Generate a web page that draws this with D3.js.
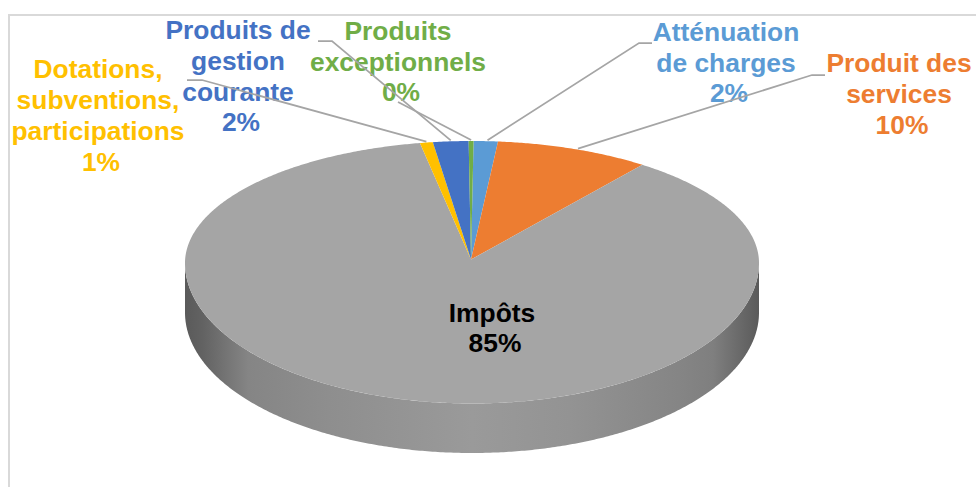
<!DOCTYPE html>
<html><head><meta charset="utf-8">
<script src="https://cdn.jsdelivr.net/npm/d3@7"></script>
<style>html,body{margin:0;padding:0;background:#fff}svg{display:block}
text{font-family:"Liberation Sans",Arial,sans-serif;font-weight:700;font-size:26.4px;text-anchor:middle}</style>
</head><body><svg id="c" width="976" height="487"></svg>
<script>
const categories = ["Atténuation de charges","Produit des services","Impôts","Dotations, subventions, participations","Produits de gestion courante","Produits exceptionnels"];
const shares = [1.5, 9.5, 85.7, 0.8, 2.2, 0.3];
const percentLabels = ["2%","10%","85%","1%","2%","0%"];
const colors = ["#5b9bd5","#ed7d31","#a5a5a5","#ffc000","#4472c4","#70ad47"];
const labelLines = [["Atténuation","de charges"],["Produit des","services"],["Impôts"],["Dotations,","subventions,","participations"],["Produits de","gestion","courante"],["Produits","exceptionnels"]];
const labelCenters = [[726,41],[899,72],[492,322],[98,78],[238,39],[398,40]];
const lineSteps = [30.5,31,30,31,30.8,30.6];
const leaders = [[[652,43],[639,43]],[[825,75],[812,75]],null,[[187,80],[202,80]],[[318,41],[332,41]],[[398,102]]];
const leaderAnchors = [0.57,0.53,0,0.5,0.5,0.5];

const svg = d3.select("#c");
const hubX=471, hubY=259.5, rimX=472, far=118.5, near=144.5, halfW=287, depth=49.5;
const q=(near-far)/(near+far), A=far*(1+q), B=halfW*Math.sqrt(1-q*q);
// the rim is widest a little above its geometric middle
const yRemap=d3.scaleLinear().domain([hubY-far,(2*hubY-far+near)/2,hubY+near]).range([141,263,403.5]);
const X=a=>rimX+B*Math.sin(a)/(1+q*Math.cos(a));
const Y=a=>yRemap(hubY-A*Math.cos(a)/(1+q*Math.cos(a)));
const arcPts=(a0,a1,dy=0)=>{const n=Math.max(2,Math.ceil(Math.abs(a1-a0)*120));
  return d3.range(n+1).map(i=>{const a=a0+(a1-a0)*i/n;return [X(a),Y(a)+dy];});};
const line=d3.line();

// frame
svg.append("path").attr("d",line([[9,487],[9,15],[976,15]])).attr("fill","none").attr("stroke","#d9d9d9").attr("stroke-width",2);

// side gradient
const g=svg.append("defs").append("linearGradient").attr("id","side").attr("gradientUnits","userSpaceOnUse")
  .attr("x1",rimX-halfW).attr("x2",rimX+halfW).attr("y1",0).attr("y2",0);
[[0,"#5a5a5a"],[.03,"#626262"],[.11,"#858585"],[.25,"#8e8e8e"],[.5,"#9a9a9a"],[.67,"#939393"],[.86,"#858585"],[.92,"#7f7f7f"],[.97,"#686868"],[1,"#5a5a5a"]]
 .forEach(s=>g.append("stop").attr("offset",s[0]).attr("stop-color",s[1]));
const a0=Math.acos(-q);
svg.append("path").attr("d",line(arcPts(a0,2*Math.PI-a0).concat(arcPts(2*Math.PI-a0,a0,depth)))+"Z").attr("fill","url(#side)");

// top face
const pie=d3.pie().sort(null).value(d=>d).startAngle(0.006).endAngle(2*Math.PI+0.006);
const slices=pie(shares);
svg.selectAll("path.s").data(slices).join("path").attr("class","s")
  .attr("d",d=>line([[hubX,hubY]].concat(arcPts(d.startAngle,d.endAngle)))+"Z")
  .attr("fill",(d,i)=>colors[i]);

// labels
categories.forEach((c,i)=>{
  const [x,y]=labelCenters[i];
  const t=svg.append("text").attr("fill",i===2?"#000":colors[i]);
  labelLines[i].forEach((s,j)=>t.append("tspan").attr("x",x).attr("y",y+j*lineSteps[i]).text(s));
  t.append("tspan").attr("x",x+3).attr("y",y+labelLines[i].length*lineSteps[i]).text(percentLabels[i]);
});

// leader lines
slices.forEach((d,i)=>{
  if(!leaders[i])return;
  const a=d.startAngle+(d.endAngle-d.startAngle)*leaderAnchors[i];
  svg.append("path").attr("d",line(leaders[i].concat([[X(a),Y(a)-1]])))
    .attr("fill","none").attr("stroke","#a5a5a5").attr("stroke-width",1.75);
});
</script></body></html>
